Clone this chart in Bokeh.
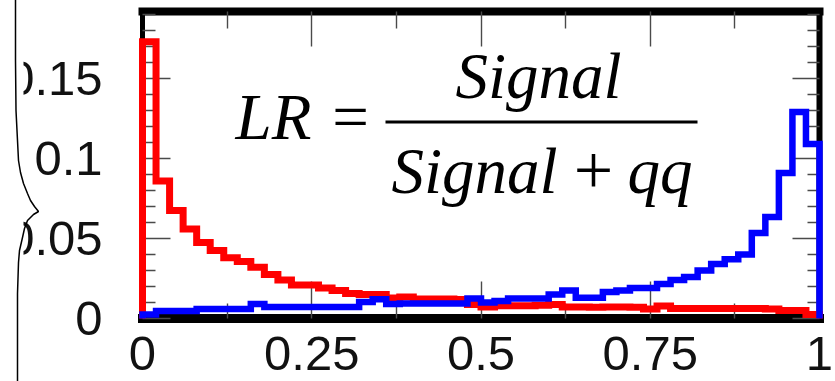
import numpy as np
from bokeh.plotting import figure
from bokeh.models import LinearAxis, FixedTicker, Range1d, Label
from bokeh.embed import file_html
from bokeh.resources import INLINE

# ---------------- data ----------------
n_bins = 50
red_values = [0.173, 0.086, 0.0675, 0.056, 0.0475, 0.0425, 0.038, 0.0356, 0.032, 0.0275,
              0.024, 0.021, 0.021, 0.019, 0.0175, 0.0156, 0.015, 0.015, 0.0128, 0.0135,
              0.0122, 0.0122, 0.0122, 0.0118, 0.0088, 0.0072, 0.0080, 0.0080, 0.0080, 0.0083,
              0.0088, 0.0072, 0.0072, 0.0070, 0.0072, 0.0072, 0.0070, 0.0060, 0.0078, 0.0063,
              0.0063, 0.0063, 0.0063, 0.0063, 0.0063, 0.0063, 0.0060, 0.0050, 0.0050, 0.0025]
blue_values = [0.0025, 0.0047, 0.0047, 0.0047, 0.006, 0.006, 0.006, 0.006, 0.009, 0.0072,
               0.0072, 0.0072, 0.0072, 0.0072, 0.0072, 0.0072, 0.0103, 0.012, 0.009, 0.0094,
               0.0094, 0.0094, 0.0094, 0.0094, 0.0125, 0.010, 0.011, 0.0125, 0.0125, 0.0125,
               0.015, 0.0175, 0.013, 0.013, 0.0165, 0.0175, 0.019, 0.019, 0.0215, 0.024,
               0.026, 0.030, 0.034, 0.037, 0.040, 0.0534, 0.0634, 0.091, 0.129, 0.109]
x_ticks = [0, 0.25, 0.5, 0.75, 1]
x_tick_labels = ["0", "0.25", "0.5", "0.75", "1"]
x_minor_ticks = [0.125, 0.375, 0.625, 0.875]
y_ticks = [0, 0.05, 0.1, 0.15]
y_tick_labels = ["0", "0.05", "0.1", "0.15"]
y_minor_ticks = [round(0.01 * k, 2) for k in range(1, 20) if k % 5 != 0]
x_lo, x_hi = 0.0, 1.0
y_lo, y_hi = 0.0, 0.191875

bin_edges = np.linspace(x_lo, x_hi, n_bins + 1)

def outline(vals):
    v = np.asarray(vals, dtype=float)
    xs = np.repeat(bin_edges, 2)
    ys = np.concatenate([[0.0], np.repeat(v, 2), [0.0]])
    return xs, ys

# ---------------- figure ----------------
W, H = 835, 381
X0, PXX = 142.0, 677.0      # pixel of x=0, pixels per x unit
Y0, PXY = 318.0, 1600.0     # pixel of y=0, pixels per y unit

def px_x(X):
    return (X - X0) / PXX

def px_y(Y):
    return (Y0 - Y) / PXY

p = figure(width=W, height=H, output_backend="svg", toolbar_location=None,
           x_range=Range1d(px_x(0), px_x(W)), y_range=Range1d(px_y(H), px_y(0)),
           min_border=0, min_border_left=0, min_border_right=0, min_border_top=0,
           min_border_bottom=0, x_axis_location=None, y_axis_location=None)
p.grid.visible = False
p.outline_line_color = None
p.background_fill_color = "white"
p.border_fill_color = "white"

tick_col = "#4a4a4a"

def make_axis(ticker, loc, bounds, lw, major_in, minor_in):
    ax = LinearAxis(ticker=ticker, fixed_location=loc, bounds=bounds)
    ax.axis_line_color = "black"
    ax.axis_line_width = lw
    ax.axis_line_cap = "square"
    ax.major_tick_in = major_in
    ax.major_tick_out = 0
    ax.minor_tick_in = minor_in
    ax.minor_tick_out = 0
    ax.major_tick_line_color = tick_col
    ax.minor_tick_line_color = tick_col
    ax.major_tick_line_width = 1.4
    ax.minor_tick_line_width = 1.4
    ax.major_label_text_color = None
    return ax

xt = FixedTicker(ticks=x_ticks, minor_ticks=x_minor_ticks)
yt = FixedTicker(ticks=y_ticks, minor_ticks=y_minor_ticks)

left = make_axis(yt, x_lo, (y_lo, y_hi), 5, 28, 13)
left.major_label_overrides = {t: s for t, s in zip(y_ticks, y_tick_labels)}
left.major_label_text_font = "Liberation Sans"
left.major_label_text_font_size = "49px"
left.major_label_text_color = "#111111"
left.major_label_standoff = 40
p.add_layout(left, "left")

right = make_axis(yt, x_hi, (y_lo, y_hi), 6, 27, 12)
p.add_layout(right, "right")

bottom = make_axis(xt, y_lo, (x_lo, x_hi), 9, 37, 15)
bottom.major_label_overrides = {t: s for t, s in zip(x_ticks, x_tick_labels)}
bottom.major_label_text_font = "Liberation Sans"
bottom.major_label_text_font_size = "49px"
bottom.major_label_text_color = "#111111"
bottom.major_label_standoff = 18
p.add_layout(bottom, "below")

top = make_axis(xt, y_hi, (x_lo, x_hi), 8, 35, 17)
p.add_layout(top, "above")

# histograms
rx, ry = outline(red_values)
bx, by = outline(blue_values)
p.line(rx, ry, line_color="#ff0000", line_width=7, line_join="miter", level="overlay")
p.line(bx, by, line_color="#0000ff", line_width=6.5, line_join="miter", level="overlay")

# formula LR = Signal / (Signal + qq)
serif = "Liberation Serif"
FS = 65
MID = 0.3375 * FS   # baseline -> middle of text box

def tlabel(X, Yb, txt, italic=True, align="left", size=FS):
    p.add_layout(Label(x=px_x(X), y=px_y(Yb - MID), text=txt, text_font=serif,
                       text_font_size=f"{size}px",
                       text_font_style="italic" if italic else "normal",
                       text_align=align, text_baseline="middle", text_color="black"))

tlabel(235, 138, "LR")
tlabel(350, 138, "=", italic=False, align="center")
tlabel(455, 97, "Signal")
tlabel(391, 192, "Signal")
tlabel(593, 192, "+", italic=False, align="center", size=70)
tlabel(627, 192, "qq")
p.segment(x0=[px_x(385)], y0=[px_y(121.5)], x1=[px_x(697)], y1=[px_y(121.5)],
          line_color="black", line_width=3)

# white strip at the left edge (label "0"s partly hidden), then the curly brace
p.quad(left=[px_x(-5)], right=[px_x(23)], bottom=[px_y(H + 5)], top=[px_y(-5)],
       fill_color="white", line_color=None, level="overlay")
brace_px_x = [15, 15, 15.5, 17, 18, 20, 23, 27, 30, 34, 38, 33, 27, 24, 22, 19, 18, 17, 17]
brace_px_y = [-2, 60, 110, 140, 160, 172, 183, 193, 200, 206, 211, 214, 220, 228, 237, 250, 262, 293, 383]
p.line([px_x(v) for v in brace_px_x], [px_y(v) for v in brace_px_y],
       line_color="black", line_width=1.5, level="overlay")

open("out.html", "w").write(file_html(p, INLINE))
